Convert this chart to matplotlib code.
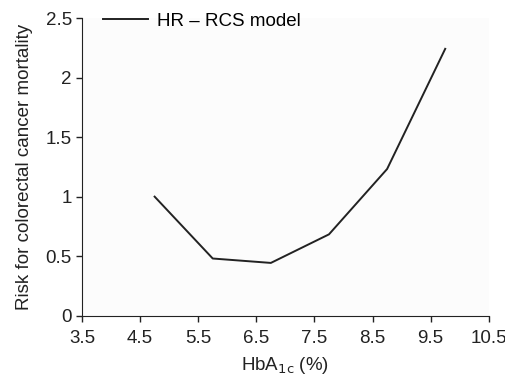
import numpy as np
import matplotlib.pyplot as plt

plt.rcParams['font.family'] = ['Liberation Sans', 'DejaVu Sans']

# HbA1c (%) et risque (HR - modele RCS)
hba1c = [4.75, 5.75, 6.75, 7.75, 8.75, 9.75]
risk = [1.0, 0.48, 0.443, 0.683, 1.232, 2.242]
xticks = [3.5, 4.5, 5.5, 6.5, 7.5, 8.5, 9.5, 10.5]
yticks = [0, 0.5, 1, 1.5, 2, 2.5]
ytick_labels = ['0', '0.5', '1', '1.5', '2', '2.5']

fig = plt.figure(figsize=(5.06, 3.78), dpi=100)
ax = fig.add_axes([0.162, 0.165, 0.804, 0.787])
ax.set_facecolor('#fcfcfc')

ax.plot(hba1c, risk, color='#222222', linewidth=1.4, label='HR \u2013 RCS model')

ax.set_xlim(3.5, 10.5)
ax.set_ylim(0, 2.5)
ax.set_xticks(xticks)
ax.set_xticklabels([str(t) for t in xticks])
ax.set_yticks(yticks)
ax.set_yticklabels(ytick_labels)
ax.tick_params(direction='out', length=4.3, width=1, labelsize=13.5, colors='#222222')
ax.tick_params(axis='x', pad=6)
ax.tick_params(axis='y', pad=3)
for s in ['top', 'right']:
    ax.spines[s].set_visible(False)
for s in ['left', 'bottom']:
    ax.spines[s].set_color('#222222')

ax.set_xlabel(r'HbA$_{\mathrm{1c}}$ (%)', fontsize=13.5, color='#222222', labelpad=6)
ax.set_ylabel('Risk for colorectal cancer mortality', fontsize=13.5, color='#222222', labelpad=9)

ax.legend(loc='center left', frameon=False, fontsize=13.5, handlelength=2.4,
          handletextpad=0.48, bbox_to_anchor=(0.052, 0.99), borderaxespad=0, borderpad=0)

fig.savefig('out.png', dpi=100)
